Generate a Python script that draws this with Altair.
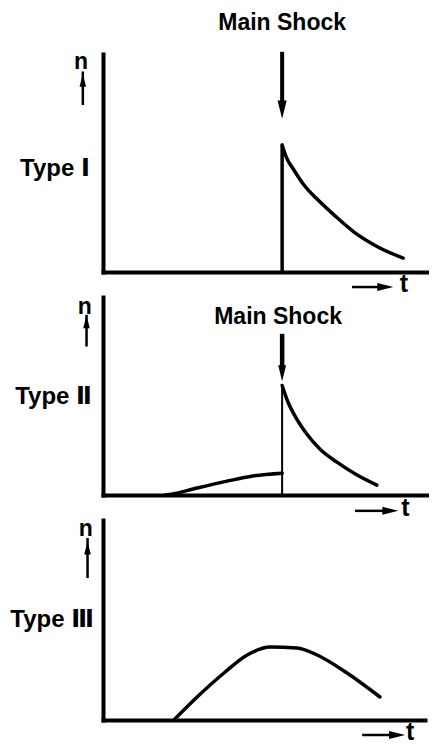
import altair as alt
import pandas as pd

# ---- data (t = time units, n = count units) ----
# Type I: main shock then decaying aftershocks
t1_shock = 53.3
t1_curve_t = [53.3, 54.5, 56.8, 59.8, 64.0, 68.8, 74.7, 81.8, 89.3]
t1_curve_n = [58.3, 52.8, 46.8, 39.9, 33.0, 26.1, 18.3, 11.5, 6.4]
# Type II: foreshocks, main shock, aftershocks
t2_shock = 53.3
t2_fore_t = [18.5, 20.8, 26.8, 36.9, 44.6, 53.3]
t2_fore_n = [0.0, 0.5, 3.0, 7.0, 9.6, 11.0]
t2_after_t = [53.3, 55.1, 57.7, 60.7, 64.6, 69.6, 75.6, 81.5]
t2_after_n = [55.3, 46.7, 38.2, 30.7, 23.1, 16.6, 10.1, 5.0]
# Type III: swarm
t3_t = [21.1, 28.0, 36.0, 42.9, 49.7, 57.7, 63.7, 72.6, 82.4]
t3_n = [0.0, 11.5, 23.5, 32.5, 36.5, 36.0, 32.5, 23.5, 11.5]

panel_labels = ["Type Ⅰ", "Type Ⅱ", "Type Ⅲ"]
shock_label = "Main Shock"
y_label = "n"
x_label = "t"

FONT = "Liberation Sans, DejaVu Sans"
AX = alt.Axis(labels=False, ticks=False, grid=False, domainWidth=4,
              domainColor="black", domainCap="square")


def xs(xmax):
    return alt.X("t:Q", scale=alt.Scale(domain=[0, xmax], nice=False, zero=False),
                 axis=AX, title=None)


def ys():
    return alt.Y("n:Q", scale=alt.Scale(domain=[0, 100], nice=False, zero=False),
                 axis=AX, title=None)


def line_layer(ts, ns, xmax, width=3.5):
    df = pd.DataFrame({"t": ts, "n": ns})
    return alt.Chart(df).mark_line(color="black", strokeWidth=width,
                                   interpolate="monotone", strokeCap="round").encode(
        x=xs(xmax), y=ys())


def vrule(t, n1, n2, xmax, width):
    df = pd.DataFrame({"t": [t], "n": [n1], "n2": [n2]})
    return alt.Chart(df).mark_rule(color="black", strokeWidth=width).encode(
        x=xs(xmax), y=ys(), y2="n2:Q")


def hrule(t1, t2, n, xmax, width):
    df = pd.DataFrame({"t": [t1], "t2": [t2], "n": [n]})
    return alt.Chart(df).mark_rule(color="black", strokeWidth=width).encode(
        x=xs(xmax), x2="t2:Q", y=ys())


def head(t, n, shape, size, xmax):
    df = pd.DataFrame({"t": [t], "n": [n]})
    return alt.Chart(df).mark_point(shape=shape, filled=True, size=size, color="black",
                                    opacity=1, strokeWidth=0).encode(x=xs(xmax), y=ys())


def label(t, n, txt, xmax, align="center", size=24, weight="bold"):
    df = pd.DataFrame({"t": [t], "n": [n], "label": [txt]})
    return alt.Chart(df).mark_text(align=align, baseline="middle", font=FONT,
                                   fontSize=size, fontWeight=weight, color="black").encode(
        x=xs(xmax), y=ys(), text="label:N")


DOWN = "M -0.5 -1 L 0.5 -1 L 0 1 Z"
UP = "M 0 -1 L 0.5 1 L -0.5 1 Z"
RIGHT = "M -1 -0.5 L 1 0 L -1 0.5 Z"


def n_arrow(t, n_txt, n_top, n_bot, n_head, xmax, dt):
    return [label(t, n_txt, y_label, xmax, size=23),
            vrule(t + dt, n_top, n_bot, xmax, 2.5),
            head(t + dt, n_head, UP, 170, xmax)]


def t_arrow(t1, t2, th, tt, n, xmax):
    return [hrule(t1, t2, n, xmax, 2.5),
            head(th, n, RIGHT, 260, xmax),
            label(tt, n + 1.5, x_label, xmax, size=25)]


# ---- panel 1 ----
X1 = 97.0
p1 = alt.layer(
    vrule(t1_shock, 0, 58.3, X1, 3.5),
    line_layer(t1_curve_t, t1_curve_n, X1),
    vrule(t1_shock, 101, 78, X1, 4),
    head(t1_shock, 74.5, DOWN, 330, X1),
    label(t1_shock, 114, shock_label, X1, size=23),
    label(-3.9, 47.2, panel_labels[0], X1, align="right"),
    *n_arrow(-6.5, 96.3, 92.0, 76.6, 88.0, X1, 0.5),
    *t_arrow(74.1, 82, 84.0, 89.5, -6.9, X1),
).properties(width=326, height=218)

# ---- panel 2 ----
X2 = 97.0
p2 = alt.layer(
    vrule(t2_shock, 0, 55.3, X2, 2),
    line_layer(t2_fore_t, t2_fore_n, X2),
    line_layer(t2_after_t, t2_after_n, X2),
    vrule(t2_shock, 81.4, 64, X2, 4.5),
    head(t2_shock, 61.5, DOWN, 250, X2),
    label(52.1, 90, shock_label, X2, size=23),
    label(-3.3, 49.7, panel_labels[1], X2, align="right"),
    *n_arrow(-5.4, 95, 91.0, 75, 87.5, X2, 0.5),
    *t_arrow(75, 83.5, 85.5, 90, -8, X2),
).properties(width=326, height=198)

# ---- panel 3 ----
X3 = 95.8
p3 = alt.layer(
    line_layer(t3_t, t3_n, X3),
    label(-2.7, 50, panel_labels[2], X3, align="right"),
    *n_arrow(-5.1, 95.5, 91.0, 71, 86.0, X3, 0.5),
    *t_arrow(77.1, 86, 87.5, 91.4, -7.5, X3),
).properties(width=322, height=200)

chart = alt.vconcat(p1, p2, p3, spacing=25, bounds="flush").properties(
    padding={"left": 2, "top": 4, "right": 0, "bottom": 0},
    background="white",
).configure_view(stroke=None)

chart.save("out.html", embed_options={"renderer": "svg", "actions": False})
